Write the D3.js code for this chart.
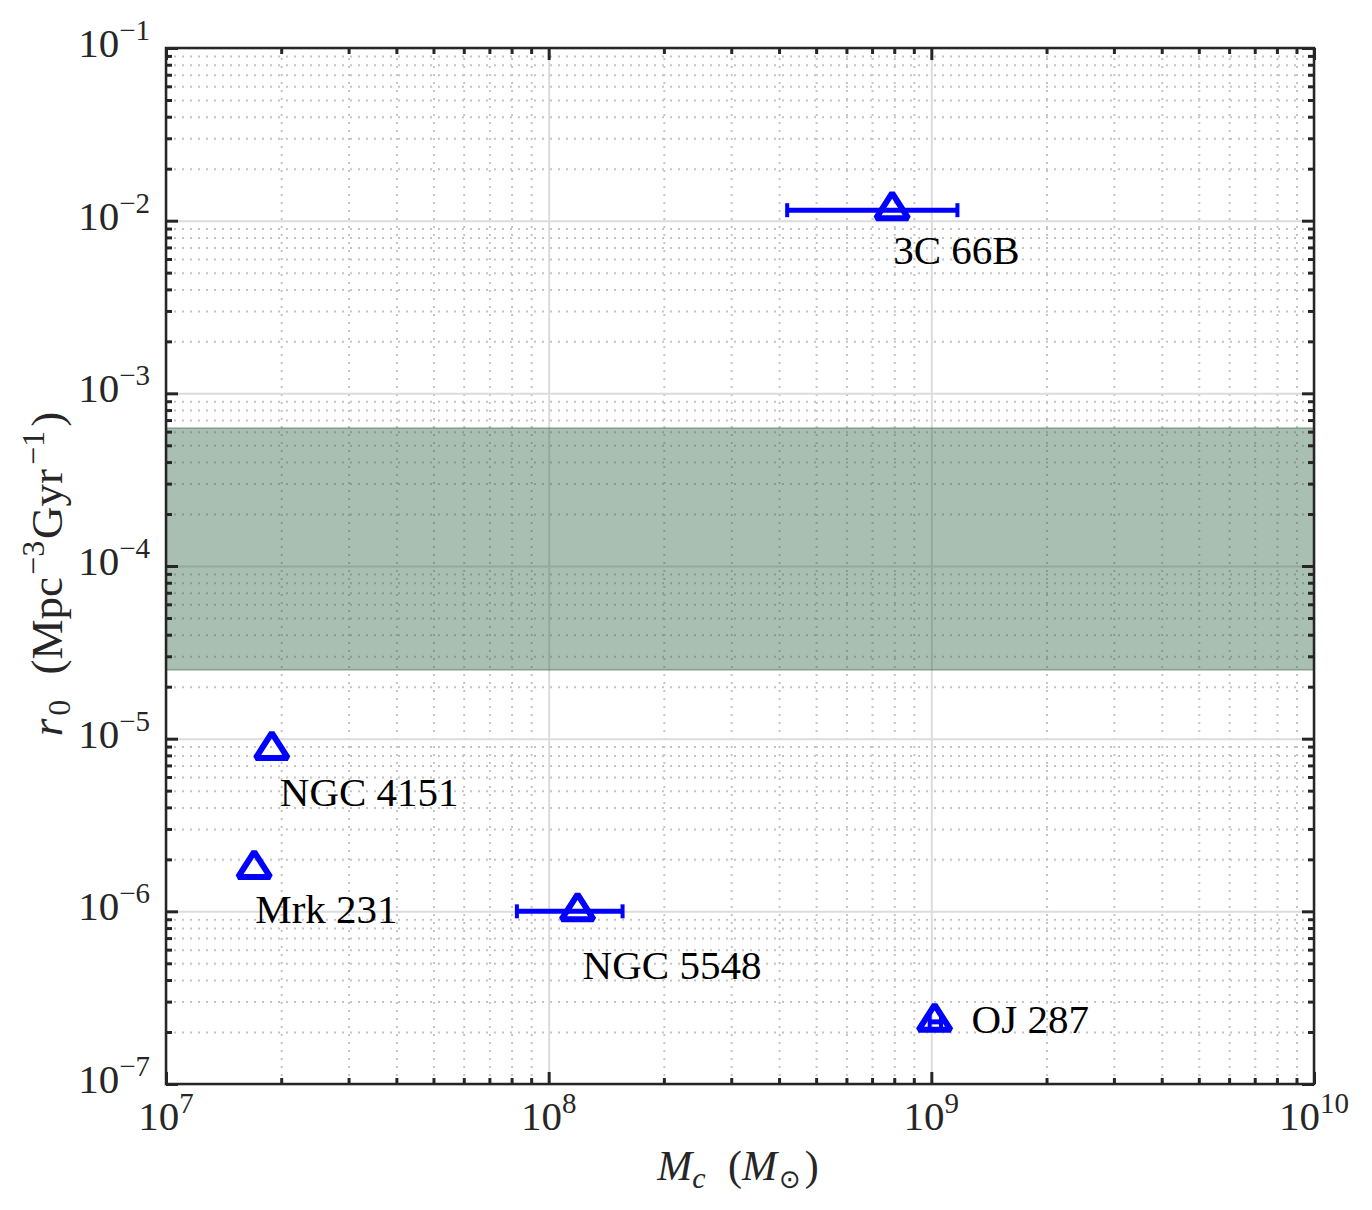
<!DOCTYPE html>
<html>
<head>
<meta charset="utf-8">
<script src="https://cdn.jsdelivr.net/npm/d3@7"></script>
<style>
  body { margin: 0; background: #fff; }
  text { font-family: "Liberation Serif", "DejaVu Serif", serif; fill: #262626; }
</style>
</head>
<body>
<svg id="chart" width="1372" height="1210"></svg>
<script>
// source data
var names    = ["3C 66B", "NGC 5548", "OJ 287", "NGC 4151", "Mrk 231"];
var mass     = [7.9e8, 1.19e8, 1.02e9, 1.89e7, 1.70e7];
var massLo   = [4.2e8, 8.26e7, 0.99e9, null, null];
var massHi   = [1.17e9, 1.56e8, 1.06e9, null, null];
var rate     = [1.15e-2, 1.0e-6, 2.29e-7, 8.6e-6, 1.76e-6];
var bandRate = [2.5e-5, 6.3e-4];
var xDecades = [7, 8, 9, 10];
var yDecades = [-7, -6, -5, -4, -3, -2, -1];

// label offsets (pixels) from each marker
var labelDx = [1, 5, 37, 8, 1];
var labelDy = [54, 68, 11, 56, 54];

var svg = d3.select("#chart");
var L = 166, R = 1314, T = 48, B = 1084;
var plotW = R - L, plotH = B - T;

var x = d3.scaleLog().domain([1e7, 1e10]).range([L, R]);
var y = d3.scaleLog().domain([1e-7, 1e-1]).range([B, T]);

var majorX = xDecades.map(d => Math.pow(10, d));
var majorY = yDecades.map(d => Math.pow(10, d));
var minorOf = function(decs) {
	var out = [];
	decs.slice(0, -1).forEach(d => {
		for (var k = 2; k <= 9; k++) out.push(k * Math.pow(10, d));
	});
	return out;
};
var minorX = minorOf(xDecades);
var minorY = minorOf(yDecades);

// grid lines
var grid = svg.append("g");
grid.append("g")
	.attr("transform", "translate(0," + B + ")")
	.call(d3.axisBottom(x).tickValues(minorX).tickSize(-plotH).tickFormat(""))
	.call(g => g.select(".domain").remove())
	.selectAll("line").attr("stroke", "#c4c4c4").attr("stroke-width", 2).attr("stroke-dasharray", "2,6");
grid.append("g")
	.attr("transform", "translate(" + L + ",0)")
	.call(d3.axisLeft(y).tickValues(minorY).tickSize(-plotW).tickFormat(""))
	.call(g => g.select(".domain").remove())
	.selectAll("line").attr("stroke", "#c4c4c4").attr("stroke-width", 2).attr("stroke-dasharray", "2,6");
grid.append("g")
	.attr("transform", "translate(0," + B + ")")
	.call(d3.axisBottom(x).tickValues(majorX).tickSize(-plotH).tickFormat(""))
	.call(g => g.select(".domain").remove())
	.selectAll("line").attr("stroke", "#dcdcdc").attr("stroke-width", 2);
grid.append("g")
	.attr("transform", "translate(" + L + ",0)")
	.call(d3.axisLeft(y).tickValues(majorY).tickSize(-plotW).tickFormat(""))
	.call(g => g.select(".domain").remove())
	.selectAll("line").attr("stroke", "#dcdcdc").attr("stroke-width", 2);

// shaded band
svg.append("rect")
	.attr("x", L)
	.attr("width", plotW)
	.attr("y", y(bandRate[1]))
	.attr("height", y(bandRate[0]) - y(bandRate[1]))
	.attr("fill", "rgb(37,95,63)")
	.attr("fill-opacity", 0.4)
	.attr("stroke", "rgb(37,95,63)")
	.attr("stroke-opacity", 0.3)
	.attr("stroke-width", 2);

// ticks on all four sides, pointing inward
var tickAxes = [
	[d3.axisBottom, x, "translate(0," + B + ")"],
	[d3.axisTop, x, "translate(0," + T + ")"],
	[d3.axisLeft, y, "translate(" + L + ",0)"],
	[d3.axisRight, y, "translate(" + R + ",0)"]
];
tickAxes.forEach(function(a) {
	var isX = a[1] === x;
	[[isX ? majorX : majorY, 12], [isX ? minorX : minorY, 6]].forEach(function(t) {
		svg.append("g")
			.attr("transform", a[2])
			.call(a[0](a[1]).tickValues(t[0]).tickSize(-t[1]).tickFormat(""))
			.call(g => g.select(".domain").remove())
			.selectAll("line").attr("stroke", "#262626").attr("stroke-width", 3);
	});
});

svg.append("rect")
	.attr("x", L).attr("y", T)
	.attr("width", plotW).attr("height", plotH)
	.attr("fill", "none")
	.attr("stroke", "#262626")
	.attr("stroke-width", 2.5);

// tick labels 10^n
var powLabel = function(sel, n) {
	sel.append("tspan").text("10");
	sel.append("tspan").attr("dy", -17).style("font-size", "29px")
		.text(n < 0 ? "\u2212" + (-n) : n);
};
svg.append("g").selectAll("text")
	.data(xDecades)
	.join("text")
	.attr("x", d => x(Math.pow(10, d)))
	.attr("y", 1130)
	.attr("text-anchor", "middle")
	.style("font-size", "41px")
	.each(function(d) { powLabel(d3.select(this), d); });
svg.append("g").selectAll("text")
	.data(yDecades)
	.join("text")
	.attr("x", 150)
	.attr("y", d => y(Math.pow(10, d)) + 9)
	.attr("text-anchor", "end")
	.style("font-size", "41px")
	.each(function(d) { powLabel(d3.select(this), d); });

// axis titles
var xt = svg.append("text")
	.attr("x", 738).attr("y", 1180)
	.attr("text-anchor", "middle")
	.style("font-size", "42px");
xt.append("tspan").style("font-style", "italic").text("M");
xt.append("tspan").attr("dy", 8).style("font-style", "italic").style("font-size", "30px").text("c");
xt.append("tspan").attr("dy", -8).attr("dx", 12).text(" (");
xt.append("tspan").style("font-style", "italic").text("M");
xt.append("tspan").attr("dy", 8).attr("dx", 2).style("font-size", "26px").style("font-family", "DejaVu Sans").text("\u2299");
xt.append("tspan").attr("dy", -8).attr("dx", 4).text(")");

var yt = svg.append("text")
	.attr("transform", "translate(62,574) rotate(-90)")
	.attr("text-anchor", "middle")
	.style("font-size", "45px");
yt.append("tspan").style("font-style", "italic").text("r");
yt.append("tspan").attr("dy", 8).attr("dx", 3).style("font-size", "32px").text("0");
yt.append("tspan").attr("dy", -8).attr("dx", 14).text(" (Mpc");
yt.append("tspan").attr("dy", -18).attr("dx", 2).style("font-size", "32px").text("\u22123");
yt.append("tspan").attr("dy", 18).attr("dx", 2).text("Gyr");
yt.append("tspan").attr("dy", -18).attr("dx", 4).style("font-size", "32px").text("\u22121");
yt.append("tspan").attr("dy", 18).attr("dx", 4).text(")");

// data
var pts = names.map((n, i) => ({name: n, m: mass[i], lo: massLo[i], hi: massHi[i], r: rate[i], dx: labelDx[i], dy: labelDy[i]}));
var blue = "#0000ff";

var eb = svg.append("g").selectAll("g")
	.data(pts.filter(d => d.lo !== null))
	.join("g");
eb.append("line")
	.attr("x1", d => x(d.lo)).attr("x2", d => x(d.hi))
	.attr("y1", d => y(d.r)).attr("y2", d => y(d.r))
	.attr("stroke", blue).attr("stroke-width", 5);
eb.selectAll(".cap")
	.data(d => [[d.lo, d.r], [d.hi, d.r]])
	.join("line")
	.attr("class", "cap")
	.attr("x1", d => x(d[0])).attr("x2", d => x(d[0]))
	.attr("y1", d => y(d[1]) - 7).attr("y2", d => y(d[1]) + 7)
	.attr("stroke", blue).attr("stroke-width", 4);

svg.append("g").selectAll("path")
	.data(pts)
	.join("path")
	.attr("d", "M0,-17L16,8L-16,8Z")
	.attr("transform", d => "translate(" + x(d.m) + "," + y(d.r) + ")")
	.attr("fill", "none")
	.attr("stroke", blue)
	.attr("stroke-width", 6)
	.attr("stroke-linejoin", "miter")
	.attr("stroke-miterlimit", 1.5);

svg.append("g").selectAll("text")
	.data(pts)
	.join("text")
	.attr("x", d => x(d.m) + d.dx)
	.attr("y", d => y(d.r) + d.dy)
	.style("font-size", "41px")
	.style("fill", "#000")
	.text(d => d.name);
</script>
</body>
</html>
